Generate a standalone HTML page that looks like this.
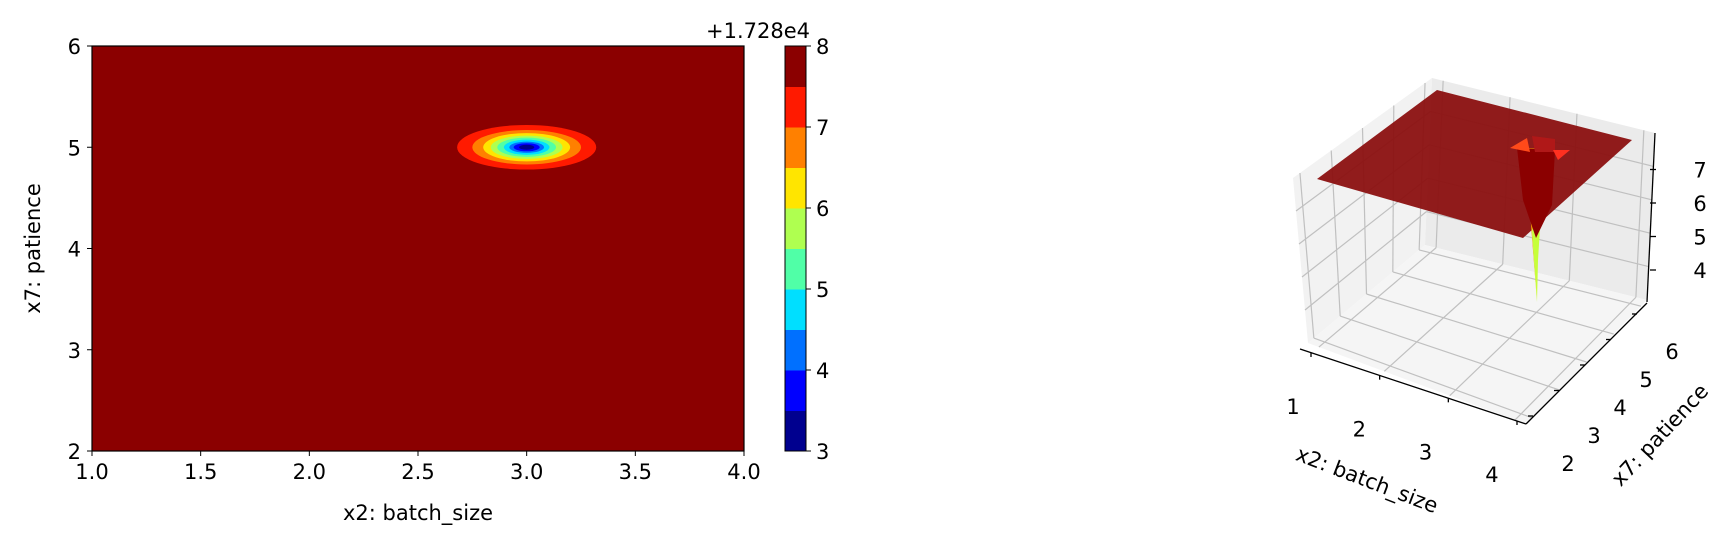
<!DOCTYPE html>
<html><head><meta charset="utf-8"><style>
body{margin:0;background:#fff;}
svg text{font-family:"DejaVu Sans","Liberation Sans",sans-serif;fill:#000;}
</style></head><body>
<svg id="fig" width="1731" height="550" viewBox="0 0 1731 550" xmlns="http://www.w3.org/2000/svg">
<g id="contour"></g>
<g id="cbar"></g>
<g id="surf3d"></g>
</svg>
<script>
const levels=[3,3.5,4,4.5,5,5.5,6,6.5,7,7.5,8];
const bandColors=["#00008f","#0000ff","#0070ff","#00dfff","#50ffa7","#afff50","#ffe500","#ff8000","#ff1a00","#8b0000"];
const contourLevels=[7.5,7,6.5,6,5.5,5,4.5,4,3.5];
const contourRx=[0.32,0.25,0.2,0.165,0.135,0.105,0.08,0.06,0.035];
const contourRy=[0.22,0.17,0.14,0.115,0.095,0.075,0.055,0.04,0.025];
const minX=3.0,minY=5.0;
const xTicks=[1.0,1.5,2.0,2.5,3.0,3.5,4.0];
const yTicks=[2,3,4,5,6];
const cbTicks=[3,4,5,6,7,8];
const NS="http://www.w3.org/2000/svg";
const FS=21;
function mk(p,t,a,txt){const e=document.createElementNS(NS,t);for(const k in a)e.setAttribute(k,a[k]);if(txt!==undefined)e.textContent=txt;p.appendChild(e);return e;}
const L=92,R=744,T=46,B=451;
const sx=v=>L+(v-1)/3*(R-L), sy=v=>B-(v-2)/4*(B-T);
const cg=document.getElementById('contour');
let bg=mk(cg,'rect',{x:L,y:T,width:R-L,height:B-T,fill:bandColors[9]});


contourLevels.forEach((lv,i)=>{
  const bi=levels.indexOf(lv)-1;
  const e=mk(cg,'ellipse',{cx:sx(minX),cy:sy(minY),rx:contourRx[i]/3*(R-L),ry:contourRy[i]/4*(B-T),fill:bandColors[bi]});
  
  
});
mk(cg,'rect',{x:L,y:T,width:R-L,height:B-T,fill:'none',stroke:'#000','stroke-width':1.2});
xTicks.forEach(v=>{mk(cg,'line',{x1:sx(v),x2:sx(v),y1:B,y2:B+5,stroke:'#000'});
  const t=mk(cg,'text',{x:sx(v),y:B+28,'text-anchor':'middle','font-size':FS},v.toFixed(1));
  });
yTicks.forEach(v=>{mk(cg,'line',{x1:L-5,x2:L,y1:sy(v),y2:sy(v),stroke:'#000'});
  const t=mk(cg,'text',{x:L-11,y:sy(v)+8,'text-anchor':'end','font-size':FS},v);
  });
let xl=mk(cg,'text',{x:(L+R)/2,y:520,'text-anchor':'middle','font-size':FS},'x2: batch_size');

let yl=mk(cg,'text',{x:40,y:(T+B)/2,'text-anchor':'middle','font-size':FS,transform:`rotate(-90 40 ${(T+B)/2})`},'x7: patience');

const cb=document.getElementById('cbar');const CL=785,CR=806;
const cy=v=>B-(v-3)/5*(B-T);
for(let i=0;i<bandColors.length;i++){const r=mk(cb,'rect',{x:CL,y:cy(levels[i+1]),width:CR-CL,height:cy(levels[i])-cy(levels[i+1])+0.5,fill:bandColors[i]});
  }
mk(cb,'rect',{x:CL,y:T,width:CR-CL,height:B-T,fill:'none',stroke:'#000','stroke-width':1});
cbTicks.forEach(v=>{mk(cb,'line',{x1:CR,x2:CR+5,y1:cy(v),y2:cy(v),stroke:'#000'});
  const t=mk(cb,'text',{x:CR+10,y:cy(v)+8,'font-size':FS},v);
  });
let off=mk(cb,'text',{x:810,y:38,'text-anchor':'end','font-size':FS},'+1.728e4');


const sg=document.getElementById('surf3d');
const P={lt:[1293,178],bt:[1432,78],bb:[1425,245],lb:[1308,343],rt:[1655,133],rb:[1647,300],fb:[1526,424]};
const pt=a=>a.join(',');
mk(sg,'polygon',{points:[P.lt,P.bt,P.bb,P.lb].map(pt).join(' '),fill:'#f2f2f2'});
mk(sg,'polygon',{points:[P.bt,P.rt,P.rb,P.bb].map(pt).join(' '),fill:'#ebebeb'});
mk(sg,'polygon',{points:[P.lb,P.bb,P.rb,P.fb].map(pt).join(' '),fill:'#f5f5f5'});
const lerp=(a,b,t)=>[a[0]+(b[0]-a[0])*t,a[1]+(b[1]-a[1])*t];
const gl=(a,b)=>mk(sg,'line',{x1:a[0],y1:a[1],x2:b[0],y2:b[1],stroke:'#c0c0c0','stroke-width':1.2});
for(let i=0;i<4;i++){const t=0.05+i*0.3;gl(lerp(P.lb,P.fb,t),lerp(P.bb,P.rb,t));gl(lerp(P.bb,P.rb,t),lerp(P.bt,P.rt,t));}
for(let i=0;i<5;i++){const t=0.05+i*0.225;gl(lerp(P.fb,P.rb,t),lerp(P.lb,P.bb,t));gl(lerp(P.lb,P.bb,t),lerp(P.lt,P.bt,t));}
for(let i=0;i<4;i++){const t=0.2+i*0.2;gl(lerp(P.lb,P.lt,t),lerp(P.bb,P.bt,t));gl(lerp(P.bb,P.bt,t),lerp(P.rb,P.rt,t));}
let s=mk(sg,'polygon',{points:'1317,179 1437,90 1632,140 1523,238',fill:'#8b1010',opacity:0.95});

mk(sg,'polygon',{points:'1525,148 1545,149 1532,232 1537,302',fill:'#f5a000'});
mk(sg,'polygon',{points:'1532,232 1545,149 1538,260 1537,302',fill:'#c6ff3a'});
mk(sg,'polygon',{points:'1517,148 1555,150 1552,205 1536,238 1523,200',fill:'#8b0000'});
mk(sg,'polygon',{points:'1510,148 1527,138 1530,152',fill:'#ff4a1a'});
mk(sg,'polygon',{points:'1532,136 1555,139 1555,152 1535,152',fill:'#b01818'});
mk(sg,'polygon',{points:'1553,150 1570,150 1558,160',fill:'#ff3020'});
const ax=(a,b)=>mk(sg,'line',{x1:a[0],y1:a[1],x2:b[0],y2:b[1],stroke:'#000','stroke-width':1.3});
ax([1300,349],[1526,424]);ax([1526,424],[1647,303]);ax([1647,302],[1655,133]);
const x3=[1,2,3,4], y3=[2,3,4,5,6], z3=[4,5,6,7];
x3.forEach((v,i)=>{const p=lerp([1311,353],[1517,421],i/3);ax(p,[p[0],p[1]+4]);
  const t=mk(sg,'text',{x:1293+i*66.3,y:414+i*22.7,'text-anchor':'middle','font-size':FS},v);
  });
y3.forEach((v,i)=>{const p=lerp([1533,416],[1637,314],i/4);ax(p,[p[0]-5,p[1]]);
  const t=mk(sg,'text',{x:1568+i*26,y:471-i*28,'text-anchor':'middle','font-size':FS},v);
  });
z3.forEach((v,i)=>{const y=270-i*33.5;ax([1650,y],[1656,y]);
  const t=mk(sg,'text',{x:1700,y:y+8,'text-anchor':'middle','font-size':FS},v);
  });
let x3l=mk(sg,'text',{x:1367,y:487,'text-anchor':'middle','font-size':FS,transform:'rotate(21 1367 480)'},'x2: batch_size');

let y3l=mk(sg,'text',{x:1660,y:442,'text-anchor':'middle','font-size':FS,transform:'rotate(-47 1660 435)'},'x7: patience');

</script>
</body></html>
